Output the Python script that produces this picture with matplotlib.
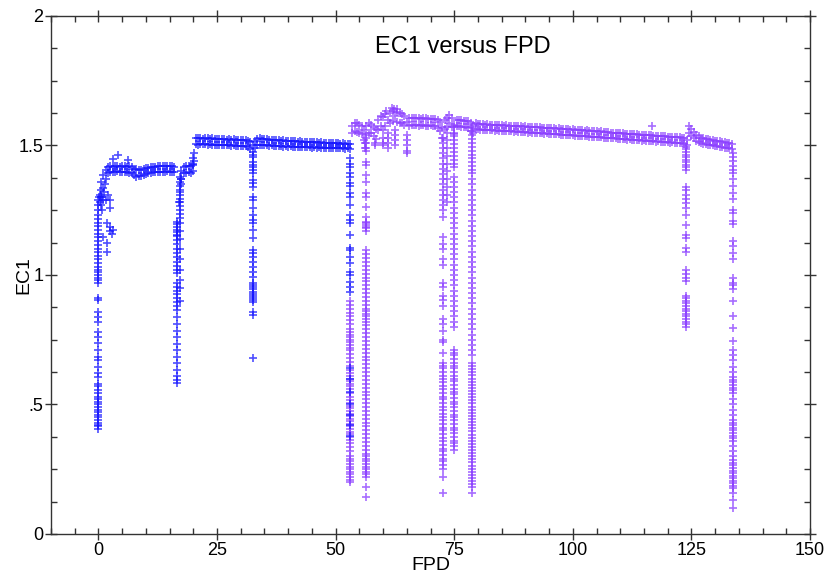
import numpy as np
import matplotlib.pyplot as plt
from matplotlib.ticker import MultipleLocator

plt.rcParams['font.family'] = ['Liberation Sans', 'DejaVu Sans']

blue = '#1414ff'
purple = '#8a3dff'

# band rows sampled every 0.5 FPD (upper / lower rows of the dense band)
bandA_start = 0.5
bandA_up = [1.36, 1.385, 1.405, 1.418, 1.422, 1.418, 1.42, 1.422, 1.417, 1.42, 1.421, 1.418, 1.419, 1.415,
            1.41, 1.408, 1.405, 1.407, 1.41, 1.412, 1.414,
            1.416, 1.418, 1.417, 1.42, 1.419, 1.421, 1.42, 1.422, 1.42, 1.421, 1.418]
bandA_lo = [1.30, 1.335, 1.37, 1.395, 1.398, 1.397, 1.399, 1.40, 1.398, 1.397, 1.399, 1.396, 1.395, 1.392,
            1.385, 1.38, 1.382, 1.384, 1.386, 1.389, 1.392,
            1.394, 1.396, 1.397, 1.398, 1.397, 1.399, 1.398, 1.40, 1.399, 1.398, 1.397]
bandB_start = 17.5
bandB_up = [1.40, 1.415, 1.42, 1.422, 1.42, 1.425]
bandB_lo = [1.37, 1.392, 1.395, 1.396, 1.395, 1.40]
bandC_start = 20.5
bandC_up = [1.528, 1.527, 1.529, 1.526, 1.528, 1.527, 1.525, 1.527, 1.526, 1.525,
            1.524, 1.526, 1.525, 1.523, 1.524, 1.522, 1.524, 1.523, 1.522, 1.521,
            1.522, 1.52, 1.518, 1.512, 1.50, 1.518, 1.526, 1.528, 1.526, 1.525,
            1.524, 1.522, 1.523, 1.521, 1.522, 1.52, 1.519, 1.52, 1.518, 1.517,
            1.518, 1.516, 1.517, 1.515, 1.516, 1.514, 1.515, 1.513, 1.514, 1.512,
            1.513, 1.512, 1.511, 1.512, 1.51, 1.511, 1.509, 1.51, 1.508, 1.509,
            1.508, 1.507, 1.508, 1.506, 1.507, 1.505]
bandC_lo = [1.505, 1.503, 1.506, 1.504, 1.505, 1.503, 1.504, 1.502, 1.503, 1.502,
            1.501, 1.503, 1.502, 1.50, 1.501, 1.499, 1.50, 1.498, 1.499, 1.498,
            1.499, 1.497, 1.494, 1.485, 1.465, 1.49, 1.50, 1.503, 1.502, 1.501,
            1.50, 1.499, 1.50, 1.498, 1.499, 1.497, 1.498, 1.496, 1.497, 1.496,
            1.497, 1.495, 1.496, 1.494, 1.495, 1.494, 1.495, 1.493, 1.494, 1.492,
            1.493, 1.492, 1.493, 1.491, 1.492, 1.49, 1.491, 1.49, 1.491, 1.489,
            1.49, 1.489, 1.49, 1.488, 1.489, 1.487]

bandP1_start = 53.5
bandP1_up = [1.575, 1.588, 1.585, 1.58, 1.575, 1.56, 1.575, 1.585, 1.58, 1.57, 1.565, 1.60, 1.615,
             1.61, 1.62, 1.60, 1.625, 1.635, 1.615, 1.628, 1.625, 1.62, 1.615, 1.59, 1.605,
             1.607, 1.605, 1.608, 1.606, 1.604, 1.606, 1.605, 1.603, 1.604, 1.602, 1.603, 1.598,
             1.59, 1.57, 1.60, 1.605, 1.618, 1.605, 1.58, 1.60, 1.598, 1.597, 1.596, 1.595,
             1.593, 1.585, 1.58, 1.588]
bandP1_lo = [1.55, 1.555, 1.552, 1.55, 1.545, 1.52, 1.54, 1.55, 1.548, 1.535, 1.525, 1.56, 1.575,
             1.56, 1.575, 1.55, 1.585, 1.595, 1.56, 1.59, 1.588, 1.585, 1.58, 1.54, 1.575,
             1.579, 1.578, 1.58, 1.577, 1.579, 1.578, 1.576, 1.577, 1.578, 1.575, 1.574, 1.568,
             1.555, 1.53, 1.565, 1.57, 1.585, 1.57, 1.545, 1.575, 1.574, 1.573, 1.572, 1.57,
             1.568, 1.555, 1.55, 1.565]
bandP2_start = 80.0
bandP2_up = [1.584, 1.582, 1.583, 1.581, 1.582, 1.580, 1.581, 1.579, 1.580, 1.578,
             1.579, 1.577, 1.578, 1.576, 1.577, 1.575, 1.576, 1.574, 1.575, 1.573,
             1.574, 1.572, 1.573, 1.571, 1.572, 1.57, 1.571, 1.569, 1.568, 1.569,
             1.567, 1.568, 1.566, 1.565, 1.566, 1.564, 1.563, 1.564, 1.562, 1.561,
             1.562, 1.56, 1.559, 1.56, 1.558, 1.557, 1.558, 1.556, 1.555, 1.556,
             1.554, 1.553, 1.554, 1.552, 1.551, 1.552, 1.55, 1.549, 1.55, 1.548,
             1.547, 1.548, 1.546, 1.545, 1.546, 1.544, 1.543, 1.544, 1.542, 1.541,
             1.542, 1.54, 1.539, 1.54, 1.538, 1.537, 1.538, 1.536, 1.535, 1.536,
             1.534, 1.533, 1.534, 1.532, 1.531, 1.532, 1.53, 1.528]
bandP2_lo = [1.562, 1.560, 1.561, 1.559, 1.560, 1.558, 1.559, 1.557, 1.558, 1.556,
             1.557, 1.555, 1.556, 1.554, 1.555, 1.553, 1.554, 1.552, 1.553, 1.551,
             1.552, 1.55, 1.551, 1.549, 1.55, 1.548, 1.549, 1.547, 1.546, 1.547,
             1.545, 1.546, 1.544, 1.543, 1.544, 1.542, 1.541, 1.542, 1.54, 1.539,
             1.54, 1.538, 1.537, 1.538, 1.536, 1.535, 1.536, 1.534, 1.533, 1.534,
             1.532, 1.531, 1.532, 1.53, 1.529, 1.53, 1.528, 1.527, 1.528, 1.526,
             1.525, 1.526, 1.524, 1.523, 1.524, 1.522, 1.521, 1.522, 1.52, 1.519,
             1.52, 1.518, 1.517, 1.518, 1.516, 1.515, 1.516, 1.514, 1.513, 1.514,
             1.512, 1.511, 1.512, 1.51, 1.509, 1.51, 1.508, 1.506]
bandP3_start = 124.0
bandP3_up = [1.52, 1.576, 1.562, 1.551, 1.542, 1.535, 1.53, 1.527, 1.525, 1.524,
             1.522, 1.521, 1.519, 1.518, 1.516, 1.515, 1.513, 1.511, 1.508, 1.505]
bandP3_lo = [1.50, 1.548, 1.537, 1.527, 1.519, 1.513, 1.509, 1.506, 1.504, 1.503,
             1.501, 1.50, 1.498, 1.497, 1.495, 1.494, 1.492, 1.491, 1.489, 1.487]

# vertical drop-outs: one FPD value, many EC1 values
spike0_x = 0.0
spike0_y = [0.405, 0.415, 0.42, 0.43, 0.44, 0.45, 0.46, 0.47, 0.48, 0.49, 0.50, 0.51, 0.52, 0.53, 0.545,
            0.555, 0.57, 0.58, 0.607, 0.62, 0.646, 0.672, 0.685, 0.71, 0.736, 0.762, 0.781, 0.82, 0.839,
            0.858, 0.903, 0.91, 0.97, 0.98, 0.99, 1.0, 1.01, 1.02, 1.03, 1.045, 1.06, 1.075, 1.09, 1.10,
            1.115, 1.13, 1.147, 1.16, 1.175, 1.19, 1.20, 1.215, 1.23, 1.25, 1.27, 1.29]
spike16_x = 16.6
spike16_y = [1.205, 1.195, 1.185, 1.175, 1.165, 1.155, 1.15, 1.135, 1.12, 1.10, 1.085, 1.07, 1.05, 1.035,
             1.02, 1.008, 0.97, 0.955, 0.94, 0.925, 0.91, 0.895, 0.88, 0.865, 0.838, 0.81, 0.785, 0.76,
             0.735, 0.71, 0.685, 0.66, 0.635, 0.61, 0.595, 0.583]
spike17_x = 17.1
spike17_y = [1.38, 1.36, 1.345, 1.33, 1.31, 1.295, 1.28, 1.265, 1.25, 1.235, 1.22, 1.20, 1.17, 1.14,
             1.10, 1.06, 1.02, 0.98, 0.95, 0.90]
spike32_x = 32.6
spike32_y = [1.475, 1.455, 1.436, 1.425, 1.415, 1.405, 1.394, 1.367, 1.355, 1.34, 1.302, 1.29, 1.257,
             1.232, 1.212, 1.2, 1.174, 1.142, 1.097, 1.084, 1.071, 1.051, 1.032, 1.013, 0.993, 0.968,
             0.96, 0.952, 0.944, 0.936, 0.928, 0.92, 0.912, 0.904, 0.897, 0.858, 0.846, 0.678]
spike53_x = 53.1
spike53_blue_y = [1.45, 1.43, 1.418, 1.392, 1.378, 1.355, 1.342, 1.316, 1.303, 1.27, 1.232, 1.212, 1.2,
                  1.154, 1.103, 1.097, 1.071, 1.045, 1.013, 1.0, 0.974, 0.955, 0.936,
                  0.64, 0.60, 0.55, 0.50, 0.46, 0.42, 0.38]
spike53_y = [0.90, 0.885, 0.87, 0.855, 0.84, 0.825, 0.81, 0.79, 0.78, 0.77, 0.76, 0.75, 0.74, 0.73,
             0.72, 0.71, 0.695, 0.68, 0.665, 0.65, 0.635, 0.62, 0.61, 0.60, 0.59, 0.58, 0.57, 0.56,
             0.545, 0.53, 0.517, 0.505, 0.495, 0.485, 0.475, 0.465, 0.455, 0.445, 0.435, 0.425, 0.415,
             0.405, 0.395, 0.385, 0.375, 0.363, 0.35, 0.335, 0.32, 0.30, 0.29, 0.28, 0.27, 0.26, 0.25,
             0.24, 0.23, 0.22, 0.21, 0.20]
spike56_x = 56.3
spike56_y = [1.53, 1.51, 1.49, 1.48, 1.438, 1.425, 1.386, 1.36, 1.315, 1.302, 1.264, 1.225, 1.206, 1.2,
             1.193, 1.185, 1.18, 1.17, 1.097, 1.08, 1.065, 1.05, 1.035, 1.02, 1.005, 0.99, 0.975, 0.96,
             0.945, 0.93, 0.915, 0.90, 0.885, 0.87, 0.86, 0.85, 0.84, 0.83, 0.82, 0.805, 0.79, 0.775,
             0.76, 0.745, 0.73, 0.715, 0.70, 0.685, 0.67, 0.655, 0.64, 0.625, 0.61, 0.595, 0.58, 0.565,
             0.55, 0.535, 0.52, 0.505, 0.49, 0.475, 0.46, 0.445, 0.43, 0.415, 0.40, 0.385, 0.37, 0.355,
             0.34, 0.325, 0.31, 0.30, 0.29, 0.28, 0.27, 0.26, 0.25, 0.24, 0.23, 0.22, 0.18, 0.143]
spike72_x = 72.6
spike72_y = [1.53, 1.51, 1.49, 1.47, 1.45, 1.43, 1.41, 1.39, 1.37, 1.35, 1.33, 1.31, 1.29, 1.27, 1.25,
             1.225, 1.147, 1.12, 1.10, 1.06, 1.04, 0.97, 0.955, 0.92, 0.905, 0.88, 0.83, 0.81, 0.785,
             0.75, 0.74, 0.70, 0.66, 0.65, 0.64, 0.625, 0.61, 0.60, 0.585, 0.57, 0.56, 0.545, 0.53,
             0.52, 0.505, 0.49, 0.48, 0.465, 0.45, 0.44, 0.425, 0.41, 0.40, 0.385, 0.37, 0.36, 0.345,
             0.33, 0.32, 0.305, 0.29, 0.28, 0.265, 0.25, 0.22, 0.158]
spike73_x = 73.4
spike73_y = [1.55, 1.52, 1.49, 1.46, 1.43, 1.40, 1.37, 1.34, 1.31, 1.28]
spike75_x = 74.9
spike75_y = [1.57, 1.55, 1.535, 1.52, 1.505, 1.49, 1.475, 1.46, 1.445, 1.43, 1.417, 1.38, 1.36, 1.34,
             1.32, 1.30, 1.28, 1.26, 1.24, 1.22, 1.20, 1.18, 1.16, 1.14, 1.12, 1.10, 1.08, 1.06, 1.04,
             1.02, 1.00, 0.98, 0.96, 0.94, 0.92, 0.90, 0.88, 0.86, 0.84, 0.82, 0.80, 0.71, 0.70, 0.69,
             0.675, 0.66, 0.65, 0.64, 0.625, 0.61, 0.60, 0.59, 0.575, 0.56, 0.55, 0.54, 0.525, 0.51,
             0.50, 0.49, 0.475, 0.46, 0.45, 0.44, 0.425, 0.41, 0.40, 0.39, 0.375, 0.36, 0.35, 0.34, 0.324]
spike79_x = 78.8
spike79_y = [1.57, 1.555, 1.54, 1.525, 1.51, 1.495, 1.48, 1.465, 1.45, 1.435, 1.42, 1.405, 1.394,
             1.37, 1.35, 1.33, 1.31, 1.29, 1.27, 1.25, 1.23, 1.21, 1.19, 1.17, 1.15, 1.13, 1.11, 1.09,
             1.07, 1.05, 1.03, 1.01, 0.99, 0.97, 0.95, 0.93, 0.91, 0.89, 0.87, 0.85, 0.83, 0.81, 0.79,
             0.77, 0.75, 0.73, 0.71, 0.69, 0.66, 0.648, 0.636, 0.624, 0.612, 0.60, 0.588, 0.576, 0.564,
             0.552, 0.54, 0.528, 0.516, 0.504, 0.492, 0.48, 0.468, 0.456, 0.444, 0.432, 0.42, 0.408,
             0.396, 0.384, 0.372, 0.36, 0.348, 0.336, 0.324, 0.312, 0.30, 0.288, 0.276, 0.264, 0.252,
             0.24, 0.228, 0.216, 0.204, 0.192, 0.18, 0.158]
spike124_x = 123.9
spike124_y = [1.495, 1.485, 1.475, 1.465, 1.455, 1.445, 1.435, 1.425, 1.415, 1.405, 1.34, 1.328, 1.309,
              1.293, 1.277, 1.258, 1.232, 1.193, 1.155, 1.142, 1.103, 1.088, 1.02, 1.005, 0.99, 0.975,
              0.92, 0.91, 0.90, 0.89, 0.88, 0.87, 0.86, 0.85, 0.84, 0.83, 0.82, 0.81, 0.80]
spike134_x = 133.7
spike134_y = [1.47, 1.455, 1.44, 1.42, 1.405, 1.395, 1.37, 1.344, 1.318, 1.293, 1.25, 1.24, 1.21, 1.195,
              1.13, 1.11, 1.085, 1.06, 0.99, 0.97, 0.96, 0.945, 0.90, 0.842, 0.795, 0.746, 0.71, 0.691,
              0.672, 0.646, 0.627, 0.607, 0.595, 0.585, 0.575, 0.565, 0.555, 0.544, 0.52, 0.50, 0.48,
              0.46, 0.44, 0.43, 0.42, 0.41, 0.40, 0.39, 0.38, 0.37, 0.36, 0.34, 0.32, 0.30, 0.285, 0.274,
              0.265, 0.255, 0.245, 0.235, 0.225, 0.215, 0.205, 0.195, 0.185, 0.178, 0.158, 0.131, 0.10]

# loose points off the band
blue_pts_x = [0.2, 0.3, 0.4, 0.5, 0.6, 0.7, 0.8, 1.0, 1.0, 1.2, 1.4, 1.5, 1.7, 1.7, 1.8, 2.0, 2.4, 2.4,
              2.5, 2.4, 2.8, 3.1, 3.1, 4.2, 6.3, 17.2, 17.3, 17.4, 17.0, 19.9, 20.0, 20.1, 20.2]
blue_pts_y = [1.30, 1.28, 1.31, 1.27, 1.33, 1.30, 1.25, 1.148, 1.29, 1.32, 1.35, 1.29, 1.122, 1.09, 1.20,
              1.31, 1.186, 1.17, 1.26, 1.29, 1.16, 1.174, 1.447, 1.463, 1.444, 1.32, 1.35, 1.37, 1.28,
              1.43, 1.45, 1.44, 1.47]
purple_pts_x = [56.1, 56.1, 58.3, 58.3, 60.0, 60.0, 60.0, 61.0, 61.0, 61.0, 62.5, 62.5, 62.5,
                65.0, 65.0, 65.0, 65.0, 61.8, 60.6, 62.2, 63.0, 116.6]
purple_pts_y = [1.51, 1.49, 1.51, 1.50, 1.53, 1.51, 1.50, 1.53, 1.51, 1.49, 1.54, 1.52, 1.50,
                1.52, 1.50, 1.48, 1.47, 1.645, 1.635, 1.64, 1.64, 1.575]

blue_x, blue_y, purple_x, purple_y = [], [], [], []
def add_band(xs, ys, start, up, lo):
    for i in range(len(up)):
        xs += [start + 0.5 * i, start + 0.5 * i]
        ys += [up[i], lo[i]]

def add_spike(xs, ys, x0, vals):
    xs += [x0] * len(vals)
    ys += list(vals)

add_band(blue_x, blue_y, bandA_start, bandA_up, bandA_lo)
add_band(blue_x, blue_y, bandB_start, bandB_up, bandB_lo)
add_band(blue_x, blue_y, bandC_start, bandC_up, bandC_lo)
add_spike(blue_x, blue_y, spike0_x, spike0_y)
add_spike(blue_x, blue_y, spike16_x, spike16_y)
add_spike(blue_x, blue_y, spike17_x, spike17_y)
add_spike(blue_x, blue_y, spike32_x, spike32_y)
add_spike(blue_x, blue_y, spike53_x, spike53_blue_y)
blue_x += blue_pts_x
blue_y += blue_pts_y

add_band(purple_x, purple_y, bandP1_start, bandP1_up, bandP1_lo)
add_band(purple_x, purple_y, bandP2_start, bandP2_up, bandP2_lo)
add_band(purple_x, purple_y, bandP3_start, bandP3_up, bandP3_lo)
for sx, sy in [(spike53_x, spike53_y), (spike56_x, spike56_y), (spike72_x, spike72_y),
               (spike73_x, spike73_y), (spike75_x, spike75_y), (spike79_x, spike79_y),
               (spike124_x, spike124_y), (spike134_x, spike134_y)]:
    add_spike(purple_x, purple_y, sx, sy)
purple_x += purple_pts_x
purple_y += purple_pts_y

fig = plt.figure(figsize=(8.34, 5.73), dpi=100)
ax = fig.add_axes([0.0612, 0.0681, 0.9100, 0.9040])
ax.plot(purple_x, purple_y, '+', color=purple, ms=6, mew=1.2, alpha=0.75, linestyle='none')
ax.plot(blue_x, blue_y, '+', color=blue, ms=6, mew=1.2, alpha=0.75, linestyle='none')

ax.set_xlim(-10, 150)
ax.set_ylim(0, 2)
ax.xaxis.set_major_locator(MultipleLocator(25))
ax.xaxis.set_minor_locator(MultipleLocator(5))
ax.set_yticks([0, 0.5, 1, 1.5, 2])
ax.set_yticklabels(['0', '.5', '1', '1.5', '2'])
ax.yaxis.set_minor_locator(MultipleLocator(0.125))
ax.tick_params(which='major', direction='inout', length=9, width=1, top=True, right=True,
               labelsize=13, pad=1, color='#333333')
ax.tick_params(which='minor', direction='in', length=4, width=1, top=True, right=True, color='#333333')
for s in ax.spines.values():
    s.set_color('#333333')
    s.set_linewidth(1)

ax.set_xlabel('FPD', fontsize=14, labelpad=-1)
ax.set_ylabel('EC1', fontsize=14)
ax.yaxis.set_label_coords(-0.024, 0.5)
ax.text(0.543, 0.94, 'EC1 versus FPD', transform=ax.transAxes, ha='center', va='center', fontsize=17)

fig.savefig('out.png', dpi=100)
